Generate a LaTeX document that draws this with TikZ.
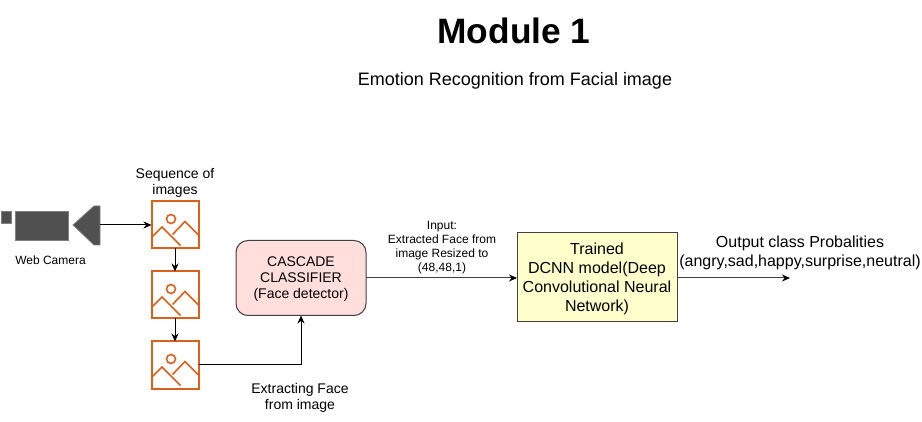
\documentclass[tikz,border=0pt]{standalone}
\usepackage{fontspec}
\setmainfont{Liberation Sans}
\usetikzlibrary{arrows.meta}
\definecolor{iconorange}{HTML}{D9611C}
\definecolor{camgray}{HTML}{505050}
\definecolor{boxpink}{HTML}{FFDEDC}
\definecolor{boxyellow}{HTML}{FFFFCC}

\begin{document}
\begin{tikzpicture}[x=1pt, y=-1pt, outer sep = 0pt, line width=1pt, >={Stealth[length=8pt,width=7pt,color=black]}]

\tikzstyle{imgbox}=[draw=iconorange, line width=2pt, rectangle, minimum height=47pt, minimum width=47pt, anchor=north west, inner sep=0pt]
\tikzstyle{camera}=[draw=gray, fill=camgray, line width=0.8pt]
\tikzstyle{label}=[align=center, inner sep=0pt, font=\fontsize{14}{16}\selectfont]
\tikzstyle{small}=[align=center, inner sep=0pt, font=\fontsize{12}{14}\selectfont]
\tikzstyle{block}=[draw=black!75, line width=1pt, rectangle, align=center, anchor=north west, inner sep=0pt, text depth=-4.5pt]

\useasboundingbox (0,0) rectangle (922,422);

\node[inner sep=0pt, font=\bfseries\fontsize{35.3}{40}\selectfont] (title) at (514,31) {Module 1};
\node[inner sep=0pt, font=\fontsize{18}{20}\selectfont] (subtitle) at (515,81) {Emotion Recognition from Facial image};

% camera
\draw[camera] (1,211) rectangle (11,223);
\draw[camera] (15,211) rectangle (68,240);
\draw[camera] (73,225) -- (94,206) -- (100,206) -- (100,245) -- (94,245) -- cycle;
\coordinate (cam) at (100,225);
\node[small] (camlabel) at (50.5,260) {Web Camera};

% images
\node[label] (seqlabel) at (175,183) {Sequence of\\images};
\foreach \i/\y in {1/201.5,2/271.5,3/341.5}{
  \node[imgbox] (img\i) at (151.5,\y) {};
  \begin{scope}[shift={(151,\y)}, draw=iconorange, line width=1.6pt]
    \draw (20,17.5) circle (4.5);
    \draw (1.5,35) -- (11,25.5) -- (29.5,44);
    \draw (21.5,33) -- (34,20) -- (48,34);
  \end{scope}
}

\node[block, fill=boxpink, rounded corners=12pt, minimum width=130pt, minimum height=75pt, font=\fontsize{14}{16}\selectfont] (cascade) at (236,240.5) {CASCADE\\CLASSIFIER\\(Face detector)};
\node[block, fill=boxyellow, minimum width=160pt, minimum height=89pt, font=\fontsize{16}{19}\selectfont] (dcnn) at (517,233) {Trained\\DCNN model(Deep\\Convolutional Neural\\Network)};
\coordinate (out) at (790,278);

\node[small] (inputlabel) at (442,248) {Input:\\Extracted Face from\\image Resized to\\(48,48,1)};
\node[label] (extractlabel) at (300,398) {Extracting Face\\from image};
\node[label, font=\fontsize{16}{19}\selectfont] (outlabel) at (800,252.5) {Output class Probalities\\(angry,sad,happy,surprise,neutral)};

\draw[->] (cam) -- (img1.west |- cam);
\draw[->] (img1) -- (img2);
\draw[->] (img2) -- (img3);
\draw[->] (img3.east) -| (cascade.south);
\draw[->, black!75] (cascade.east |- out) -- (dcnn.west |- out);
\draw[->, black!75] (dcnn.east |- out) -- (out);

\end{tikzpicture}
\end{document}
